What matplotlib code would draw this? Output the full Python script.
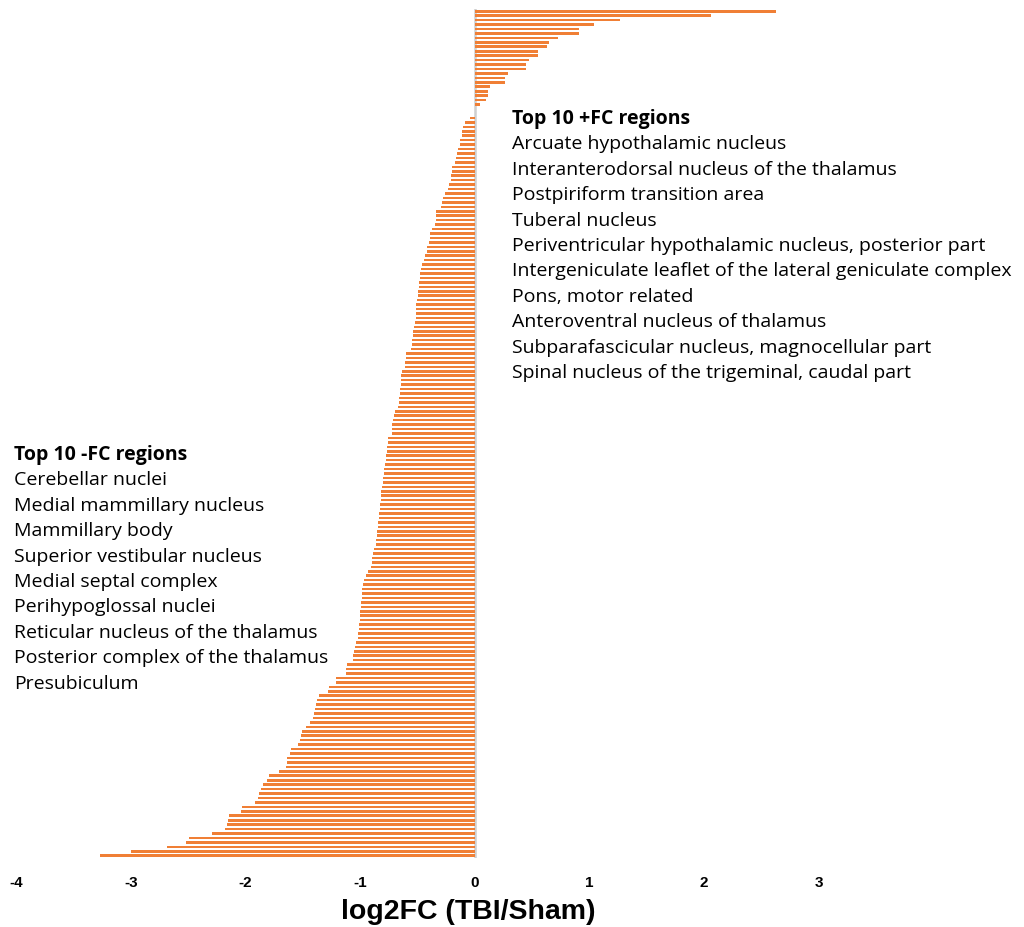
import numpy as np
import matplotlib
matplotlib.use('Agg')
import matplotlib.pyplot as plt

# log2 fold change per region, sorted high to low (top bar first)
fc_pos = [2.63, 2.06, 1.27, 1.04, 0.91, 0.91, 0.73, 0.65, 0.63, 0.55, 0.55,
          0.47, 0.45, 0.45, 0.29, 0.26, 0.26, 0.13, 0.12, 0.12, 0.10, 0.05]
fc_zero = [0.0, 0.0]
fc_neg_1 = [-0.044, -0.087, -0.10, -0.108, -0.108, -0.125, -0.13, -0.145, -0.154,
            -0.16, -0.174, -0.198, -0.198, -0.203, -0.21, -0.224, -0.23, -0.262,
            -0.276, -0.282, -0.29, -0.334, -0.34, -0.34, -0.343]
fc_neg_2 = [-0.375, -0.387, -0.392, -0.398, -0.413, -0.42, -0.436, -0.44, -0.46,
            -0.465, -0.474, -0.48, -0.485, -0.488, -0.494, -0.494, -0.503, -0.509,
            -0.509, -0.515, -0.515, -0.523, -0.532, -0.538, -0.538, -0.544, -0.547,
            -0.552]
fc_neg_3 = [-0.596, -0.60, -0.61, -0.61, -0.634, -0.64, -0.64, -0.645, -0.648,
            -0.654, -0.66, -0.663, -0.669, -0.698, -0.706, -0.712, -0.718, -0.721,
            -0.721, -0.76, -0.76, -0.765, -0.765, -0.77, -0.776, -0.785, -0.79,
            -0.794]
fc_neg_4 = [-0.80, -0.80, -0.805, -0.814, -0.814, -0.814, -0.828, -0.828, -0.834,
            -0.834, -0.843, -0.843, -0.849, -0.849, -0.863, -0.863, -0.88, -0.886,
            -0.892, -0.90, -0.907, -0.93, -0.95, -0.965, -0.974, -0.98, -0.98,
            -0.983, -0.988]
fc_neg_5 = [-0.99, -0.997, -0.997, -1.003, -1.009, -1.009, -1.017, -1.017, -1.032,
            -1.047, -1.055, -1.061, -1.061, -1.113, -1.119, -1.125, -1.212, -1.212,
            -1.27, -1.279, -1.358, -1.372, -1.38, -1.395, -1.404, -1.41, -1.433,
            -1.468]
fc_neg_6 = [-1.51, -1.512, -1.526, -1.538, -1.605, -1.613, -1.634, -1.64, -1.645,
            -1.706, -1.79, -1.808, -1.843, -1.86, -1.88, -1.89, -1.92, -2.026,
            -2.04, -2.14, -2.148, -2.163, -2.18, -2.288, -2.488, -2.52, -2.686,
            -2.994, -3.267]

top_pos = ['Arcuate hypothalamic nucleus',
           'Interanterodorsal nucleus of the thalamus',
           'Postpiriform transition area',
           'Tuberal nucleus',
           'Periventricular hypothalamic nucleus, posterior part',
           'Intergeniculate leaflet of the lateral geniculate complex',
           'Pons, motor related',
           'Anteroventral nucleus of thalamus',
           'Subparafascicular nucleus, magnocellular part',
           'Spinal nucleus of the trigeminal, caudal part']
top_neg = ['Cerebellar nuclei',
           'Medial mammillary nucleus',
           'Mammillary body',
           'Superior vestibular nucleus',
           'Medial septal complex',
           'Perihypoglossal nuclei',
           'Reticular nucleus of the thalamus',
           'Posterior complex of the thalamus',
           'Presubiculum']

xticks = [-4, -3, -2, -1, 0, 1, 2, 3]

fc = np.array(fc_pos + fc_zero + fc_neg_1 + fc_neg_2 + fc_neg_3 + fc_neg_4
              + fc_neg_5 + fc_neg_6)
n = len(fc)

W, H = 1024, 927
fig = plt.figure(figsize=(W / 100, H / 100), dpi=100)
ax = fig.add_axes([0, 1 - 858 / H, 1, (858 - 9) / H])

ax.barh(np.arange(n), fc, height=0.58, color='#F07F35', linewidth=0)
ax.axvline(0, color='#CFCFCF', lw=1.8, zorder=0)
ax.set_ylim(n - 0.5, -0.5)
ax.set_xlim(-4.14, 4.79)
ax.set_yticks([])
ax.set_xticks(xticks)
ax.set_xticklabels([str(t) for t in xticks], fontsize=11, fontweight='bold',
                   family='Liberation Sans')
ax.tick_params(axis='x', length=0, pad=13)
for s in ax.spines.values():
    s.set_visible(False)

ax.set_xlabel('log2FC (TBI/Sham)', fontsize=20.5, fontweight='bold',
              family='Liberation Sans', va='center')
ax.xaxis.set_label_coords(468 / W, -(912 - 858) / (858 - 9))

txt_font = ['Open Sans', 'DejaVu Sans']


def block(x, y0, title, items):
    fig.text(x / W, 1 - y0 / H, title, fontsize=14, fontweight='bold',
             va='center', ha='left', family=txt_font)
    for k, name in enumerate(items):
        y = y0 + 25.4 * (k + 1)
        fig.text(x / W, 1 - y / H, name, fontsize=14, va='center', ha='left',
                 family=txt_font)


block(512, 119, 'Top 10 +FC regions', top_pos)
block(14, 455, 'Top 10 -FC regions', top_neg)

fig.savefig('out.png', dpi=100)
